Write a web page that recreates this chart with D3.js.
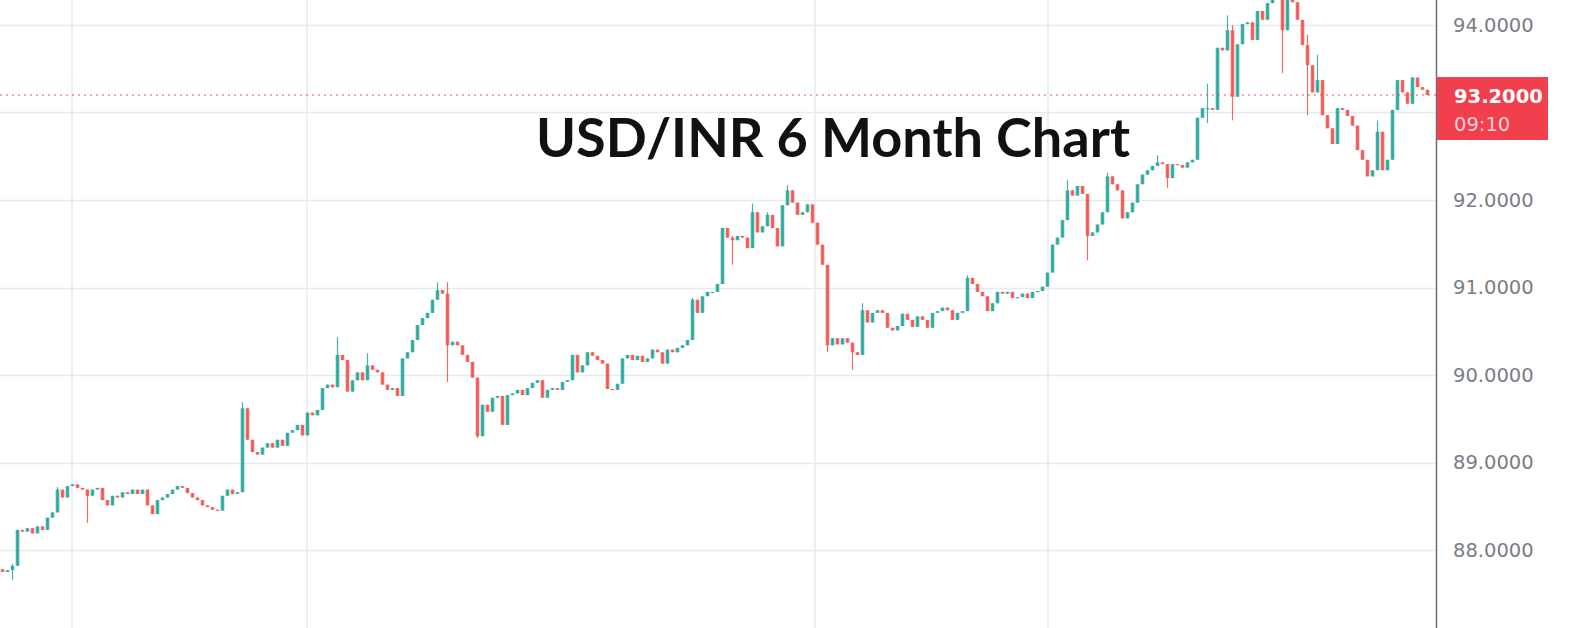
<!DOCTYPE html>
<html>
<head>
<meta charset="utf-8">
<script src="https://cdn.jsdelivr.net/npm/d3@7"></script>
<style>
  html, body { margin: 0; padding: 0; background: #ffffff; }
  svg { display: block; }
</style>
</head>
<body>
<svg id="chart" width="1570" height="628"></svg>
<script>
// ---- DATA ----
const firstOpen = 87.78;
const closes = [
  87.75, 87.77, 87.82, 88.23, 88.21, 88.25, 88.19, 88.27, 88.23, 88.37,
  88.43, 88.69, 88.60, 88.73, 88.75, 88.71, 88.69, 88.62, 88.69, 88.71,
  88.57, 88.51, 88.62, 88.60, 88.66, 88.64, 88.69, 88.64, 88.69, 88.51,
  88.41, 88.57, 88.60, 88.64, 88.69, 88.73, 88.71, 88.65, 88.60, 88.57,
  88.51, 88.49, 88.46, 88.45, 88.62, 88.69, 88.64, 88.66, 89.62, 89.26,
  89.12, 89.09, 89.17, 89.22, 89.17, 89.26, 89.19, 89.34, 89.37, 89.43,
  89.31, 89.57, 89.54, 89.60, 89.85, 89.89, 89.86, 90.23, 90.17, 89.81,
  89.94, 90.03, 89.94, 90.11, 90.06, 90.03, 89.89, 89.83, 89.85, 89.76,
  90.19, 90.26, 90.40, 90.57, 90.65, 90.71, 90.86, 90.97, 90.93, 90.34,
  90.38, 90.34, 90.23, 90.15, 89.97, 89.30, 89.66, 89.58, 89.74, 89.76,
  89.43, 89.77, 89.79, 89.83, 89.77, 89.85, 89.91, 89.94, 89.74, 89.83,
  89.85, 89.83, 89.92, 89.94, 90.23, 90.03, 90.11, 90.26, 90.22, 90.17,
  90.13, 89.84, 89.83, 89.90, 90.19, 90.23, 90.17, 90.22, 90.15, 90.19,
  90.29, 90.26, 90.13, 90.29, 90.26, 90.31, 90.34, 90.40, 90.86, 90.71,
  90.90, 90.95, 90.95, 91.04, 91.68, 91.57, 91.54, 91.59, 91.57, 91.45,
  91.86, 91.63, 91.70, 91.83, 91.68, 91.47, 91.94, 92.11, 91.97, 91.83,
  91.86, 91.95, 91.74, 91.49, 91.26, 90.34, 90.42, 90.35, 90.42, 90.37,
  90.26, 90.23, 90.74, 90.60, 90.71, 90.74, 90.71, 90.54, 90.51, 90.56,
  90.70, 90.63, 90.55, 90.67, 90.63, 90.54, 90.71, 90.73, 90.77, 90.74,
  90.63, 90.71, 90.73, 91.11, 91.04, 90.95, 90.90, 90.73, 90.82, 90.95,
  90.93, 90.95, 90.88, 90.89, 90.93, 90.88, 90.95, 90.96, 91.01, 91.17,
  91.49, 91.57, 91.77, 92.11, 92.05, 92.16, 92.07, 91.59, 91.63, 91.72,
  91.86, 92.27, 92.18, 92.11, 91.79, 91.86, 91.97, 92.18, 92.29, 92.34,
  92.39, 92.43, 92.41, 92.25, 92.41, 92.40, 92.37, 92.43, 92.46, 92.94,
  93.05, 93.05, 93.03, 93.74, 93.71, 93.94, 93.18, 93.78, 94.01, 94.03,
  93.83, 94.16, 94.06, 94.25, 94.34, 94.40, 93.94, 94.34, 94.26, 94.06,
  93.77, 93.54, 93.23, 93.37, 92.97, 92.82, 92.64, 93.05, 93.03, 92.96,
  92.85, 92.57, 92.46, 92.27, 92.34, 92.78, 92.34, 92.46, 93.03, 93.37,
  93.23, 93.10, 93.40, 93.29, 93.26, 93.20
];
// candles whose wicks reach beyond the body
const spikeIndex = [2, 11, 17, 48, 67, 73, 87, 89, 95, 138, 146, 150, 153, 157, 165, 170, 172, 193, 213, 217, 221, 231, 233, 241, 245, 246, 256, 261, 263, 275];
const spikeHigh  = [87.84, 88.72, 88.69, 89.69, 90.43, 90.25, 91.06, 91.06, 89.97, 90.88, 91.59, 91.96, 91.86, 92.17, 91.26, 90.30, 90.82, 91.14, 92.23, 92.07, 92.31, 92.51, 92.41, 93.33, 94.11, 94.00, 94.48, 93.89, 93.66, 92.91];
const spikeLow   = [87.66, 88.43, 88.31, 88.66, 89.86, 89.94, 90.86, 89.92, 89.28, 90.40, 91.26, 91.45, 91.70, 91.97, 90.26, 90.06, 90.23, 91.01, 92.01, 91.31, 91.86, 92.41, 92.14, 92.88, 93.90, 92.91, 93.45, 92.97, 93.23, 92.34];
const gridPriceTicks = [88, 89, 90, 91, 92, 93, 94];
const axisLabelTicks = [88, 89, 90, 91, 92, 94];
const timeGridPositions = [13.9, 60.9, 162.5, 209.1]; // candle positions of the vertical grid lines
const lastPrice = 93.2;
const lastPriceLabel = "93.2000";
const countdownLabel = "09:10";
const titleText = "USD/INR 6 Month Chart";

// ---- BUILD CANDLES ----
const candles = closes.map((c, i) => {
  const o = i === 0 ? firstOpen : closes[i - 1];
  return { i, open: o, close: c, high: Math.max(o, c), low: Math.min(o, c) };
});
spikeIndex.forEach((idx, k) => {
  const d = candles[idx];
  d.high = Math.max(d.high, spikeHigh[k]);
  d.low = Math.min(d.low, spikeLow[k]);
});

// ---- LAYOUT ----
const W = 1570, H = 628;
const axisX = 1436;
const svg = d3.select("#chart");

const x = d3.scaleLinear().domain([0, closes.length - 1]).range([2.5, 1427.5]);
const y = d3.scaleLinear().domain([88, 94]).range([550, 25]);
const bodyW = 3.6;

const up = "#26a69a", down = "#ef5350";

svg.append("rect").attr("width", W).attr("height", H).attr("fill", "#ffffff");

// clip for the pane
svg.append("clipPath").attr("id", "pane")
  .append("rect").attr("x", 0).attr("y", 0).attr("width", axisX).attr("height", H);

const pane = svg.append("g").attr("clip-path", "url(#pane)");

// horizontal grid
pane.selectAll("line.hgrid").data(gridPriceTicks).join("line")
  .attr("class", "hgrid")
  .attr("x1", 0).attr("x2", axisX)
  .attr("y1", d => Math.round(y(d)) + 0.5).attr("y2", d => Math.round(y(d)) + 0.5)
  .attr("stroke", "#e6ebf0").attr("stroke-width", 1.5);

// vertical grid
pane.selectAll("line.vgrid").data(timeGridPositions).join("line")
  .attr("class", "vgrid")
  .attr("x1", d => x(d)).attr("x2", d => x(d))
  .attr("y1", 0).attr("y2", H)
  .attr("stroke", "#e6ebf0").attr("stroke-width", 1.5);

// candles
const cg = pane.append("g");
cg.selectAll("line.wick").data(candles).join("line")
  .attr("class", "wick")
  .attr("x1", d => x(d.i)).attr("x2", d => x(d.i))
  .attr("y1", d => y(d.high)).attr("y2", d => y(d.low))
  .attr("stroke", d => d.close >= d.open ? up : down)
  .attr("stroke-width", 1.2)
  .attr("opacity", 0.85);
cg.selectAll("rect.body").data(candles).join("rect")
  .attr("class", "body")
  .attr("x", d => x(d.i) - bodyW / 2)
  .attr("width", bodyW)
  .attr("y", d => y(Math.max(d.open, d.close)))
  .attr("height", d => Math.max(1.2, Math.abs(y(d.open) - y(d.close))))
  .attr("fill", d => d.close >= d.open ? up : down)
  .attr("opacity", 0.85);

// last price dotted line
pane.append("line")
  .attr("x1", 0).attr("x2", axisX)
  .attr("y1", y(lastPrice)).attr("y2", y(lastPrice))
  .attr("stroke", "#ef5350").attr("stroke-width", 1.2)
  .attr("stroke-dasharray", "2 4");

// title
svg.append("text")
  .attr("x", 536).attr("y", 157)
  .attr("font-family", "Lato, 'Open Sans', sans-serif")
  .attr("font-weight", 700)
  .attr("font-size", 54)
  .attr("textLength", 594)
  .attr("lengthAdjust", "spacingAndGlyphs")
  .attr("fill", "#111111")
  .text(titleText);

// price axis
const axis = d3.axisRight(y)
  .tickValues(axisLabelTicks)
  .tickFormat(d3.format(".4f"))
  .tickSize(0)
  .tickPadding(17);
const ag = svg.append("g").attr("transform", `translate(${axisX},0)`).call(axis);
ag.select(".domain").remove();
ag.selectAll("text")
  .attr("font-family", "'DejaVu Sans', sans-serif")
  .attr("font-size", 19.5)
  .attr("fill", "#7a7d85");

svg.append("line")
  .attr("x1", axisX + 0.5).attr("x2", axisX + 0.5)
  .attr("y1", 0).attr("y2", H)
  .attr("stroke", "#6b6e76").attr("stroke-width", 1.5);

// last price tag
const tag = svg.append("g");
tag.append("rect")
  .attr("x", axisX + 1).attr("y", y(lastPrice) - 18)
  .attr("width", 111).attr("height", 63)
  .attr("fill", "#f23f4e");
tag.append("text")
  .attr("x", axisX + 18).attr("y", y(lastPrice) + 8)
  .attr("font-family", "'DejaVu Sans', sans-serif")
  .attr("font-size", 19.5)
  .attr("font-weight", 600)
  .attr("fill", "#ffffff")
  .text(lastPriceLabel);
tag.append("text")
  .attr("x", axisX + 18).attr("y", y(lastPrice) + 36)
  .attr("font-family", "'DejaVu Sans', sans-serif")
  .attr("font-size", 19.5)
  .attr("fill", "#fcd2d6")
  .text(countdownLabel);
</script>
</body>
</html>
